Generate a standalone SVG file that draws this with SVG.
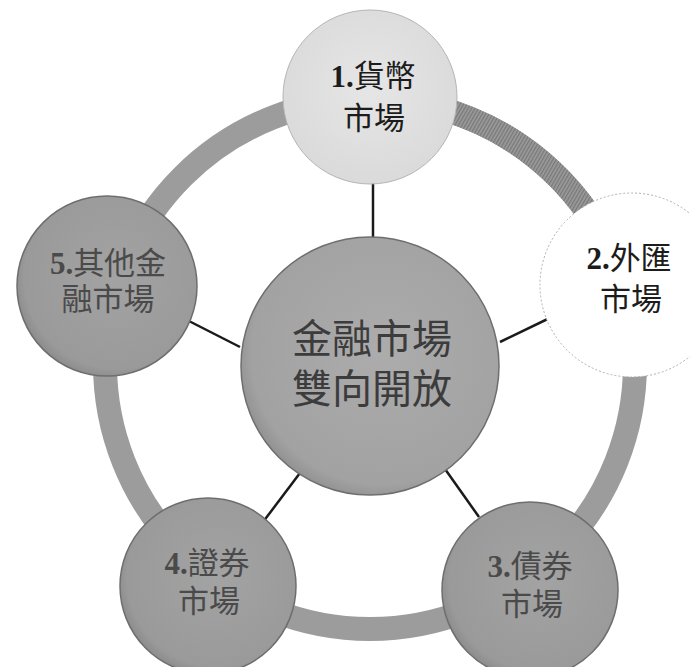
<svg xmlns="http://www.w3.org/2000/svg" width="690" height="667" viewBox="0 0 690 667">
  <defs>
    <radialGradient id="gDark" cx="0.55" cy="0.45" r="0.6">
      <stop offset="0" stop-color="#a3a3a3"/>
      <stop offset="0.85" stop-color="#9a9a9a"/>
      <stop offset="1" stop-color="#858585"/>
    </radialGradient>
    <radialGradient id="gCenter" cx="0.55" cy="0.45" r="0.6">
      <stop offset="0" stop-color="#acacac"/>
      <stop offset="0.85" stop-color="#a2a2a2"/>
      <stop offset="1" stop-color="#8a8a8a"/>
    </radialGradient>
    <radialGradient id="gLight" cx="0.5" cy="0.45" r="0.6">
      <stop offset="0" stop-color="#e6e6e6"/>
      <stop offset="1" stop-color="#d9d9d9"/>
    </radialGradient>
    <pattern id="hatch" width="3" height="3" patternUnits="userSpaceOnUse" patternTransform="rotate(30)">
      <rect width="3" height="3" fill="#9a9a9a"/>
      <rect width="1.2" height="3" fill="#777"/>
    </pattern>
  </defs>
  <style>
    .ring { fill: none; stroke: #9c9c9c; stroke-width: 24; }
    .link { stroke: #1a1a1a; stroke-width: 2.5; fill: none; }
    .dark { fill: url(#gDark); stroke: #6e6e6e; stroke-width: 1.5; }
    .lbl { font-family: "Liberation Serif", "Noto Sans CJK TC", serif; font-size: 31px; text-anchor: middle; }
    .num { font-weight: bold; }
    .lblDark { fill: #4a4a4a; }
    .lblLight { fill: #1c1c1c; }
    .ctr { font-family: "Liberation Sans", "Noto Sans CJK TC", sans-serif; font-size: 40px; font-weight: 400; text-anchor: middle; fill: #3c3c3c; }
  </style>

  <g id="ring">
    <circle class="ring" cx="370" cy="364" r="265"/>
    <path d="M 438.6 108 A 265 265 0 0 1 610.2 252" fill="none" stroke="url(#hatch)" stroke-width="24"/>
  </g>

  <g id="connectors">
    <line class="link" x1="373" y1="180" x2="373" y2="242"/>
    <line class="link" x1="500" y1="342" x2="558" y2="314"/>
    <line class="link" x1="445" y1="469" x2="479" y2="517"/>
    <line class="link" x1="303" y1="469" x2="263" y2="522"/>
    <line class="link" x1="240" y1="347" x2="185" y2="319"/>
  </g>

  <g id="center">
    <circle cx="370" cy="366" r="129" fill="url(#gCenter)" stroke="#6e6e6e" stroke-width="1.5"/>
    <text class="ctr" x="372" y="353">金融市場</text>
    <text class="ctr" x="372" y="403">雙向開放</text>
  </g>

  <g id="node1">
    <circle cx="370" cy="97" r="87" fill="url(#gLight)" stroke="#b5b5b5" stroke-width="1"/>
    <text class="lbl lblLight" x="373" y="87"><tspan class="num">1.</tspan>貨幣</text>
    <text class="lbl lblLight" x="374" y="129">市場</text>
  </g>

  <g id="node2">
    <circle cx="632" cy="285" r="92" fill="#ffffff" stroke="#b0b0b0" stroke-width="1" stroke-dasharray="2 2"/>
    <text class="lbl lblLight" x="629" y="269"><tspan class="num">2.</tspan>外匯</text>
    <text class="lbl lblLight" x="631" y="310">市場</text>
  </g>

  <g id="node3">
    <circle class="dark" cx="530" cy="590" r="88"/>
    <text class="lbl lblDark" x="530" y="577"><tspan class="num">3.</tspan>債券</text>
    <text class="lbl lblDark" x="532" y="615">市場</text>
  </g>

  <g id="node4">
    <circle class="dark" cx="208" cy="586" r="88"/>
    <text class="lbl lblDark" x="207" y="574"><tspan class="num">4.</tspan>證券</text>
    <text class="lbl lblDark" x="209" y="612">市場</text>
  </g>

  <g id="node5">
    <circle class="dark" cx="107" cy="286" r="90"/>
    <text class="lbl lblDark" x="108" y="274"><tspan class="num">5.</tspan>其他金</text>
    <text class="lbl lblDark" x="108" y="310">融市場</text>
  </g>
</svg>
